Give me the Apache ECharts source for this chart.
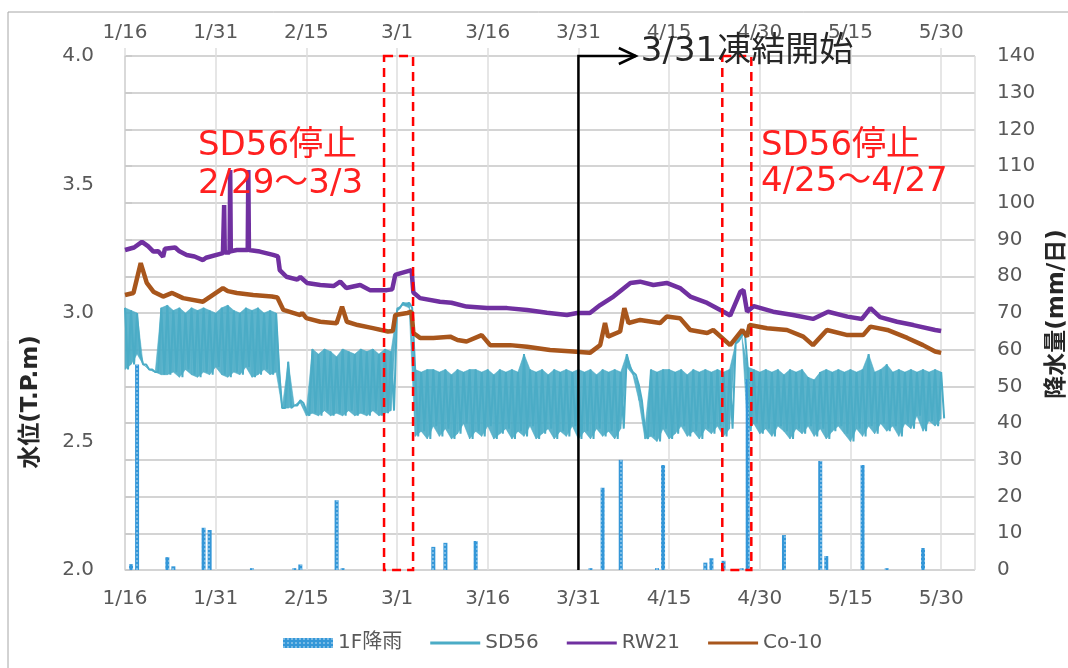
<!DOCTYPE html>
<html>
<head>
<meta charset="utf-8">
<script src="https://cdn.jsdelivr.net/npm/echarts@6.0.0/dist/echarts.min.js"></script>
<style>
  html, body { margin: 0; padding: 0; background: #fff; }
  #chart { width: 1068px; height: 668px; }
</style>
</head>
<body>
<div id="chart"></div>
<script>
// day 0 = 2016/1/16
const startDate = [2016, 0, 16];
const xMaxDay = 140.6;

// 1F rainfall (mm/day)
const rainDays = [1, 2, 7, 8, 13, 14, 21, 28, 29, 35, 36, 51, 53, 58, 77, 79, 82, 88, 89, 96, 97, 99, 102, 103, 109, 115, 116, 122, 126, 132];
const rainMm = [1.6, 56, 3.5, 1, 11.5, 10.9, 0.5, 0.5, 1.5, 19, 0.5, 6.3, 7.4, 7.9, 0.5, 22.4, 30, 0.5, 28.6, 2, 3.2, 2.5, 0.5, 52, 9.5, 29.7, 3.8, 28.6, 0.5, 6];

// SD56 daily high / low (pump cycling), one value per day from 1/16
const sd56Hi = [
  3.02, 3.01, 3.00, 2.80, 2.78, 2.77,
  3.02, 3.03, 3.01, 3.02, 3.00, 3.02, 3.01, 3.02, 3.01, 3.00,
  3.02, 3.03, 3.01, 3.00, 3.02, 3.01, 3.02, 3.00, 3.01, 3.00,
  2.63, 2.81, 2.64, 2.66, 2.62,
  2.86, 2.84, 2.86, 2.85, 2.83, 2.86, 2.85, 2.84, 2.86, 2.85,
  2.86, 2.84, 2.86, 2.85,
  3.01, 3.04, 3.04,
  2.78, 2.77, 2.78, 2.78, 2.77, 2.78, 2.76, 2.78, 2.77, 2.78,
  2.78, 2.77, 2.78, 2.76, 2.78, 2.77, 2.78, 2.77, 2.84, 2.78,
  2.77, 2.78, 2.76, 2.78, 2.77, 2.78, 2.77, 2.78, 2.77, 2.78,
  2.76, 2.78, 2.77, 2.78, 2.77,
  2.84, 2.77, 2.72, 2.55,
  2.78, 2.77, 2.78, 2.78, 2.77, 2.78, 2.76, 2.78, 2.77, 2.78,
  2.77, 2.78, 2.77, 2.78,
  2.88, 2.91,
  2.79, 2.78, 2.77, 2.78, 2.77, 2.78, 2.76, 2.78, 2.77, 2.78,
  2.75, 2.74, 2.77, 2.78, 2.77, 2.78, 2.77, 2.78, 2.77, 2.78,
  2.84, 2.77, 2.78, 2.80, 2.77, 2.78, 2.77, 2.78, 2.77, 2.78,
  2.77, 2.78, 2.77
];
const sd56Lo = [
  2.78, 2.80, 2.84, 2.80, 2.78, 2.77,
  2.76, 2.76, 2.77, 2.75, 2.78, 2.76, 2.75, 2.77, 2.76, 2.79,
  2.76, 2.75, 2.77, 2.76, 2.79, 2.75, 2.76, 2.78, 2.76, 2.77,
  2.63, 2.63, 2.64, 2.65, 2.60,
  2.61, 2.60, 2.62, 2.60, 2.61, 2.60, 2.62, 2.60, 2.61, 2.60,
  2.62, 2.60, 2.61, 2.62,
  3.02, 3.03, 3.02,
  2.52, 2.54, 2.51, 2.56, 2.52, 2.55, 2.51, 2.53, 2.57, 2.51,
  2.54, 2.52, 2.56, 2.51, 2.53, 2.55, 2.51, 2.54, 2.52, 2.56,
  2.51, 2.53, 2.55, 2.51, 2.54, 2.52, 2.56, 2.51, 2.54, 2.51,
  2.55, 2.52, 2.54, 2.51, 2.55,
  2.79, 2.76, 2.66, 2.51,
  2.52, 2.50, 2.55, 2.51, 2.53, 2.56, 2.52, 2.54, 2.51, 2.55,
  2.53, 2.56, 2.52, 2.55,
  2.89, 2.93,
  2.54, 2.57, 2.53, 2.55, 2.52, 2.56, 2.54, 2.51, 2.55, 2.53,
  2.56, 2.52, 2.55, 2.51, 2.54, 2.56, 2.53, 2.50, 2.55, 2.52,
  2.56, 2.53, 2.57, 2.54, 2.56, 2.52, 2.57, 2.55, 2.60, 2.54,
  2.58, 2.56, 2.59
];

// RW21
const rw21Days = [0, 1.5, 2.8, 3.8, 4.7, 5.5, 6.3, 6.6, 8.3, 9, 10.2, 11.5, 12.9, 13.4, 16.2, 16.4, 16.5, 17.3, 17.4, 17.5, 18.5, 20.3, 20.4, 20.5, 22.3, 24.5, 25.3, 25.6, 26.7, 28.5, 29, 30.1, 32.3, 34.5, 35.6, 36.6, 38.9, 40.5, 43.3, 44.2, 44.7, 45.5, 47.4, 47.7, 48.8, 52.1, 54, 56.5, 59.9, 63.2, 66.5, 69.8, 73.1, 74.8, 76.9, 78.6, 80.8, 83.6, 85.2, 87.4, 89.6, 91.8, 93.5, 96.3, 99, 100.1, 101.8, 102.3, 102.9, 104, 107.2, 110.5, 113.8, 116.3, 119.5, 121.9, 123.3, 124.9, 127.7, 130.4, 134, 135];
const rw21Vals = [3.245, 3.255, 3.277, 3.26, 3.239, 3.24, 3.219, 3.25, 3.255, 3.24, 3.226, 3.22, 3.206, 3.215, 3.233, 3.42, 3.235, 3.235, 3.556, 3.24, 3.245, 3.245, 3.556, 3.245, 3.239, 3.226, 3.22, 3.167, 3.141, 3.13, 3.14, 3.117, 3.109, 3.105, 3.122, 3.097, 3.109, 3.089, 3.089, 3.092, 3.148, 3.154, 3.167, 3.08, 3.058, 3.044, 3.04, 3.025, 3.019, 3.019, 3.012, 3.001, 2.992, 3.0, 3.0, 3.031, 3.064, 3.117, 3.122, 3.109, 3.117, 3.097, 3.064, 3.039, 3.005, 2.99, 3.083, 3.089, 3.005, 3.027, 3.005, 2.992, 2.977, 3.005, 2.986, 2.977, 3.019, 2.984, 2.966, 2.953, 2.934, 2.93];

// Co-10
const co10Days = [0, 1.4, 2.6, 3.6, 4.7, 6.3, 7.8, 9.6, 12.9, 16.2, 17, 18.5, 21.2, 24.3, 25.2, 26.2, 29, 29.3, 30, 32.3, 35, 35.9, 36.7, 38.5, 41, 43.5, 44.3, 44.7, 46.7, 47.4, 47.7, 48.8, 51, 53.8, 55, 56.5, 59, 60.4, 63.7, 66.5, 70.3, 74.1, 76.9, 78.6, 79.4, 79.9, 81.9, 82.6, 83.3, 85.2, 88.5, 89.6, 91.8, 93.5, 96.3, 97.3, 100.1, 102.1, 102.9, 103.3, 106.2, 109.5, 112.2, 113.8, 116.1, 119.5, 122.1, 123.3, 126.1, 129.4, 132, 134, 135];
const co10Vals = [3.07, 3.078, 3.194, 3.117, 3.083, 3.064, 3.078, 3.058, 3.044, 3.097, 3.085, 3.078, 3.07, 3.064, 3.06, 3.012, 2.992, 3.0, 2.98, 2.966, 2.96, 3.025, 2.966, 2.953, 2.941, 2.928, 2.93, 2.992, 3.0, 3.005, 2.922, 2.903, 2.903, 2.908, 2.895, 2.889, 2.914, 2.875, 2.875, 2.869, 2.856, 2.85, 2.845, 2.875, 2.961, 2.908, 2.928, 3.019, 2.961, 2.973, 2.961, 2.986, 2.98, 2.934, 2.922, 2.934, 2.875, 2.934, 2.908, 2.953, 2.941, 2.934, 2.908, 2.875, 2.934, 2.914, 2.914, 2.947, 2.934, 2.903, 2.875, 2.85, 2.845];

// annotations
const stopSpans = [[42.85, 47.65], [98.8, 103.6]];
const stopLabels = [['SD56停止', '2/29～3/3'], ['SD56停止', '4/25～4/27']];
const freezeDay = 75;
const freezeArrowEnd = 84.5;
const freezeLabel = '3/31凍結開始';

const zip = (xs, ys) => xs.map((x, i) => [x, ys[i]]);
// SD56: daily high/low trace, and the filled daily range between consecutive days
const sd56Data = [];
sd56Hi.forEach((hi, d) => { sd56Data.push([d, hi], [d + 0.5, sd56Lo[d]]); });
const sd56Band = sd56Hi.slice(0, -1).map((hi, d) => [d, sd56Lo[d], hi, sd56Lo[d + 1], sd56Hi[d + 1]]);

const dayLabel = v => {
  const d = new Date(startDate[0], startDate[1], startDate[2] + Math.round(v));
  return (d.getMonth() + 1) + '/' + d.getDate();
};

const fontLatin = '"DejaVu Sans", "Noto Sans CJK JP", sans-serif';
const labelColor = '#595959';
const sdColor = '#4BACC6';
const lineIcon = 'path://M0,0h50v3h-50z';

const chart = echarts.init(document.getElementById('chart'), null, { renderer: 'canvas' });

const xCommon = {
  type: 'value', min: 0, max: xMaxDay, interval: 15,
  axisLine: { show: false },
  axisLabel: { formatter: dayLabel, color: labelColor, fontSize: 20, fontFamily: fontLatin, showMaxLabel: false }
};

chart.setOption({
  animation: false,
  backgroundColor: '#fff',
  textStyle: { fontFamily: fontLatin },
  grid: { left: 125, right: 93, top: 56, bottom: 98, outerBoundsMode: 'none' },
  legend: {
    left: 278, top: 628,
    itemWidth: 50, itemHeight: 10, itemGap: 28,
    textStyle: { color: labelColor, fontSize: 20, fontFamily: fontLatin },
    data: [
      { name: '1F降雨', icon: 'rect' },
      { name: 'SD56', icon: lineIcon },
      { name: 'RW21', icon: lineIcon },
      { name: 'Co-10', icon: lineIcon }
    ]
  },
  xAxis: [
    Object.assign({}, xCommon, {
      position: 'bottom',
      axisTick: { show: false },
      splitLine: { show: true, lineStyle: { color: '#DEDEDE', width: 1.5 } },
      axisLabel: Object.assign({}, xCommon.axisLabel, { margin: 19 })
    }),
    Object.assign({}, xCommon, {
      position: 'top',
      axisTick: { show: true, length: 8, lineStyle: { color: '#DEDEDE', width: 1.5 } },
      splitLine: { show: false },
      axisLabel: Object.assign({}, xCommon.axisLabel, { margin: 13 })
    })
  ],
  yAxis: [
    {
      type: 'value', min: 2, max: 4, interval: 0.5,
      axisLine: { show: false }, axisTick: { show: false }, splitLine: { show: false },
      axisLabel: { formatter: v => v.toFixed(1), color: labelColor, fontSize: 20, fontFamily: fontLatin, margin: 31 }
    },
    {
      type: 'value', min: 0, max: 140, interval: 10, position: 'right',
      axisLine: { show: true, lineStyle: { color: '#D4D4D4', width: 1.5 } },
      axisTick: { show: true, length: 7, lineStyle: { color: '#C8C8C8', width: 1.5 } },
      splitLine: { show: true, lineStyle: { color: '#D4D4D4', width: 2 } },
      axisLabel: { color: labelColor, fontSize: 20, fontFamily: fontLatin, margin: 22 }
    }
  ],
  series: [
    {
      name: '1F降雨', type: 'bar', yAxisIndex: 1, barWidth: 4,
      itemStyle: {
        color: '#3497D8',
        decal: { symbol: 'rect', symbolSize: 1, color: 'rgba(255,255,255,0.35)', dashArrayX: [2, 2], dashArrayY: [2, 2] }
      },
      data: zip(rainDays, rainMm)
    },
    {
      name: 'sd56-range', type: 'custom', silent: true, z: 2,
      encode: { x: 0, y: [1, 2, 3, 4] },
      renderItem: (params, api) => {
        const d = api.value(0);
        const pts = [
          api.coord([d, api.value(2)]), api.coord([d + 1, api.value(4)]),
          api.coord([d + 1, api.value(3)]), api.coord([d, api.value(1)])
        ];
        return { type: 'polygon', shape: { points: pts },
          style: { fill: sdColor, stroke: sdColor, lineWidth: 0.6, opacity: 0.9 } };
      },
      data: sd56Band
    },
    {
      name: 'SD56', type: 'line', symbol: 'none', z: 3,
      lineStyle: { color: sdColor, width: 2, join: 'bevel' }, itemStyle: { color: sdColor },
      data: sd56Data
    },
    {
      name: 'RW21', type: 'line', symbol: 'none', z: 4,
      lineStyle: { color: '#7030A0', width: 4.5 }, itemStyle: { color: '#7030A0' },
      data: zip(rw21Days, rw21Vals)
    },
    {
      name: 'Co-10', type: 'line', symbol: 'none', z: 4,
      lineStyle: { color: '#A8561C', width: 4.5 }, itemStyle: { color: '#A8561C' },
      data: zip(co10Days, co10Vals)
    }
  ]
});

// annotation overlay, positioned through the axes
const px = (day, val) => chart.convertToPixel({ gridIndex: 0 }, [day, val]);
const graphics = [];

// outer chart frame
graphics.push({ type: 'rect', z: 1, silent: true, shape: { x: 8, y: 12, width: 1200, height: 800 },
  style: { fill: 'none', stroke: '#A6A6A6', lineWidth: 1 } });

stopSpans.forEach(span => {
  const a = px(span[0], 4.0), b = px(span[1], 2.0);
  graphics.push({ type: 'rect', z: 100, silent: true,
    shape: { x: a[0], y: a[1], width: b[0] - a[0], height: b[1] - a[1] },
    style: { fill: 'none', stroke: '#FF0000', lineWidth: 2.5, lineDash: [9, 6] } });
});

const annFont = '34px "DejaVu Sans", "Noto Sans CJK JP"';
const redText = (text, x, y) => ({ type: 'text', z: 100, silent: true, x: x, y: y,
  style: { text: text, fill: '#FF2020', font: annFont, textVerticalAlign: 'middle' } });
graphics.push(redText(stopLabels[0][0], 198, 146), redText(stopLabels[0][1], 198, 184));
graphics.push(redText(stopLabels[1][0], 761, 146), redText(stopLabels[1][1], 761, 182));

const f0 = px(freezeDay, 2.0), f1 = px(freezeDay, 4.0), f2 = px(freezeArrowEnd, 4.0);
graphics.push({ type: 'polyline', z: 100, silent: true, shape: { points: [f0, f1, f2] },
  style: { stroke: '#000', lineWidth: 2.5, fill: 'none' } });
graphics.push({ type: 'polyline', z: 100, silent: true,
  shape: { points: [[f2[0] - 17, f2[1] - 8], f2, [f2[0] - 17, f2[1] + 8]] },
  style: { stroke: '#000', lineWidth: 2.5, fill: 'none' } });
graphics.push({ type: 'text', z: 100, silent: true, x: f2[0] + 5, y: f2[1] - 4,
  style: { text: freezeLabel, fill: '#262626', font: annFont, textVerticalAlign: 'middle' } });

// axis titles
graphics.push({ type: 'text', z: 100, silent: true, x: 31, y: 402, rotation: Math.PI / 2,
  style: { text: '水位(T.P.m)', fill: '#262626', font: 'bold 23px "DejaVu Sans", "Noto Sans CJK JP"', textAlign: 'center', textVerticalAlign: 'middle' } });
graphics.push({ type: 'text', z: 100, silent: true, x: 1057, y: 314, rotation: Math.PI / 2,
  style: { text: '降水量(mm/日)', fill: '#262626', font: 'bold 23px "DejaVu Sans", "Noto Sans CJK JP"', textAlign: 'center', textVerticalAlign: 'middle' } });

chart.setOption({ graphic: graphics });
</script>
</body>
</html>
